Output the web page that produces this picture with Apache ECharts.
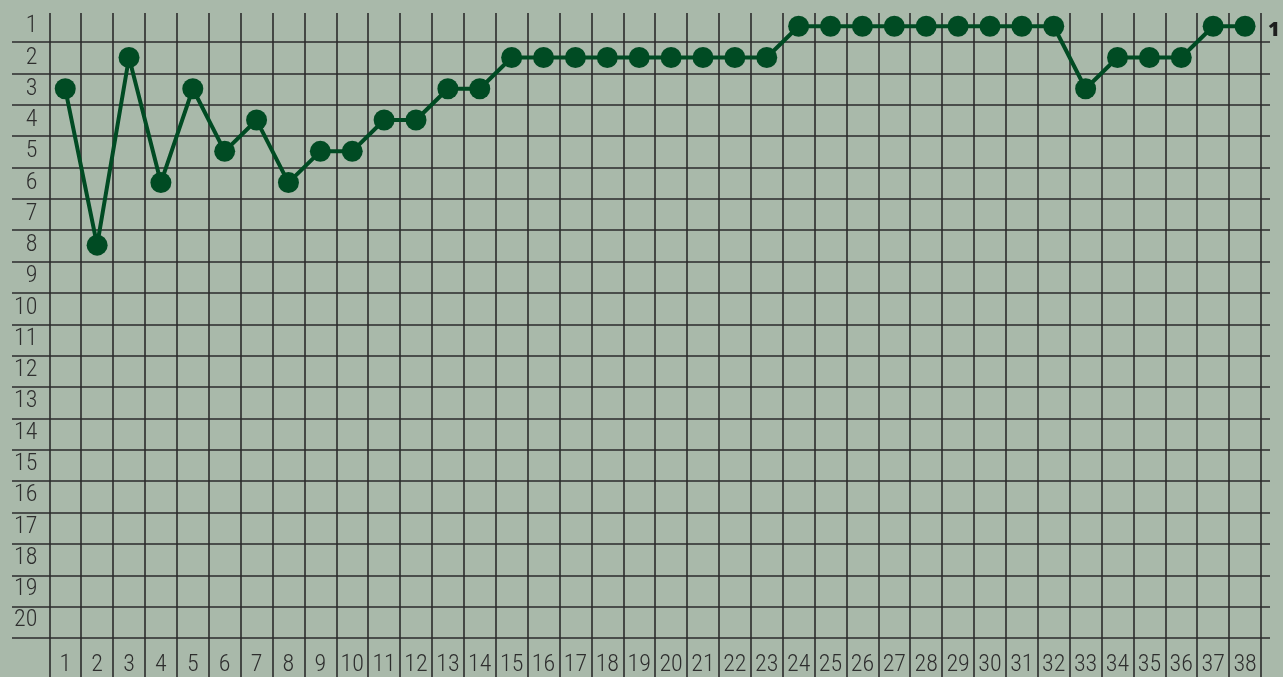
<!DOCTYPE html>
<html>
<head>
<meta charset="utf-8">
<script src="https://cdn.jsdelivr.net/npm/echarts@6/dist/echarts.min.js"></script>
<style>
  html, body { margin: 0; padding: 0; background: #a9b9aa; }
  #chart { width: 1283px; height: 677px; }
</style>
</head>
<body>
<div id="chart"></div>
<script>
// rounds and league position after each round
var rounds = [];
for (var r = 1; r <= 38; r++) rounds.push(String(r));
var places = [];
for (var p = 1; p <= 20; p++) places.push(String(p));

var positions = [3, 8, 2, 6, 3, 5, 4, 6, 5, 5,
                 4, 4, 3, 3, 2, 2, 2, 2, 2, 2,
                 2, 2, 2, 1, 1, 1, 1, 1, 1, 1,
                 1, 1, 3, 2, 2, 2, 1, 1];

var lineCol = '#2b2b2b';
var labelFont = "'Roboto Condensed', 'Liberation Sans Narrow', 'DejaVu Sans Condensed', sans-serif";

var seriesData = [];
for (var i = 0; i < positions.length; i++) {
    seriesData.push([rounds[i], String(positions[i])]);
}

var myChart = echarts.init(document.getElementById('chart'));

var option = {
    backgroundColor: '#a9b9aa',
    animation: false,
    grid: [
        // main plot area
        { left: 49.3, right: 22, top: 10.6, bottom: 39 },
        // horizontal rules, running through the label column
        { left: 12, right: 13, top: 10.6, bottom: 39 },
        // vertical rules, running through the round labels
        { left: 49.3, right: 22, top: 13, bottom: 0 }
    ],
    xAxis: [{
        gridIndex: 0,
        type: 'category',
        data: rounds,
        boundaryGap: true,
        axisLine: { show: false },
        axisTick: { show: false },
        splitLine: { show: false },
        axisLabel: {
            interval: 0,
            margin: 17,
            color: '#2e2e2e',
            fontFamily: labelFont,
            fontWeight: 300,
            fontSize: 24
        }
    }, {
        gridIndex: 1,
        type: 'category',
        data: rounds,
        show: false
    }, {
        gridIndex: 2,
        type: 'category',
        data: rounds,
        boundaryGap: true,
        axisLine: { show: false },
        axisTick: { show: false },
        axisLabel: { show: false },
        splitLine: {
            show: true,
            interval: 0,
            lineStyle: { color: lineCol, width: 1.6 }
        }
    }],
    yAxis: [{
        gridIndex: 0,
        type: 'category',
        data: places,
        inverse: true,
        boundaryGap: true,
        axisLine: { show: false },
        axisTick: { show: false },
        splitLine: { show: false },
        axisLabel: {
            interval: 0,
            margin: 12,
            color: '#2e2e2e',
            fontFamily: labelFont,
            fontWeight: 300,
            fontSize: 24
        }
    }, {
        gridIndex: 1,
        type: 'category',
        data: places,
        inverse: true,
        boundaryGap: true,
        axisLine: { show: false },
        axisTick: { show: false },
        axisLabel: { show: false },
        splitLine: {
            show: true,
            interval: 0,
            showMinLine: false,
            lineStyle: { color: lineCol, width: 1.6 }
        }
    }, {
        gridIndex: 2,
        type: 'category',
        data: places,
        show: false
    }],
    series: [{
        type: 'line',
        xAxisIndex: 0,
        yAxisIndex: 0,
        data: seriesData,
        symbol: 'circle',
        symbolSize: 21,
        z: 10,
        lineStyle: { color: '#004b23', width: 4 },
        itemStyle: { color: '#004b23' },
        endLabel: {
            show: true,
            distance: 23,
            formatter: function () {
                return String(positions[positions.length - 1]);
            },
            color: '#1e1e1e',
            fontFamily: 'Open Sans',
            fontWeight: 800,
            fontSize: 20,
            offset: [0, 4]
        }
    }]
};

myChart.setOption(option);
</script>
</body>
</html>
